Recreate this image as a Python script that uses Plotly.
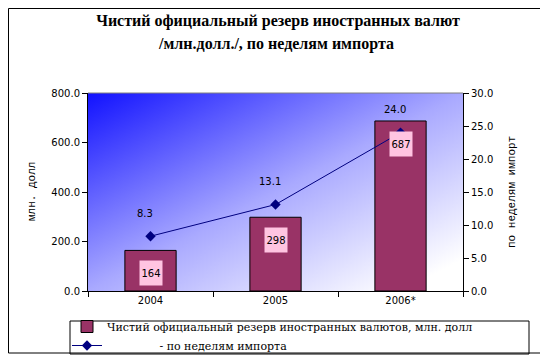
import base64
import plotly.graph_objects as go

categories = ["2004", "2005", "2006*"]
reserve_musd = [164, 298, 687]
weeks_import = [8.3, 13.1, 24.0]
bar_name = "Чистий официальный резерв иностранных валютов, млн. долл"
line_name = "\u00a0" * 15 + "- по неделям импорта"
title_line1 = "Чистий официальный резерв иностранных валют"
title_line2 = "/млн.долл./, по неделям импорта"
y_title = "млн. долл"
y2_title = "по неделям импорт"

# page body has an 8px margin: figure pixel p is screen pixel p + 8
OFF = 8
W, H = 548 - OFF, 360 - OFF
L, R, T, B = 80, 85, 85, 69
pw, ph = W - L - R, H - T - B

def px_x(p):
    return (p - L) / pw

def px_y(p):
    return (H - B - p) / ph

svg = ('<svg xmlns="http://www.w3.org/2000/svg" width="375" height="198" viewBox="0 0 375 198" '
       'preserveAspectRatio="none"><defs><linearGradient id="g" x1="0" y1="0" x2="1" y2="1">'
       '<stop offset="0" stop-color="#1212ff"/><stop offset="0.5" stop-color="#a9a9ff"/>'
       '<stop offset="0.92" stop-color="#ffffff"/><stop offset="1" stop-color="#ffffff"/>'
       '</linearGradient></defs><rect width="375" height="198" fill="url(#g)"/></svg>')
src = "data:image/svg+xml;base64," + base64.b64encode(svg.encode()).decode()

fig = go.Figure()
fig.add_trace(go.Bar(
    x=categories, y=reserve_musd, name=bar_name, width=0.41,
    marker=dict(color="#993366", line=dict(color="#000000", width=1)),
))
fig.add_trace(go.Scatter(
    x=categories, y=weeks_import, name=line_name, yaxis="y2", mode="lines+markers",
    line=dict(color="#000080", width=1),
    marker=dict(symbol="diamond", size=8, color="#000080"),
))

annotations = []
for i, v in enumerate(reserve_musd):
    annotations.append(dict(
        x=i, y=v, xref="x", yref="y", text=str(v), showarrow=False,
        yanchor="middle", yshift=-23, width=20, height=22,
        bgcolor="#ffc4e1", font=dict(family="DejaVu Sans", size=10, color="#000000"),
    ))
for i, v in enumerate(weeks_import):
    annotations.append(dict(
        x=i, y=v, xref="x", yref="y2", text=f"{v:.1f}", showarrow=False,
        yanchor="middle", yshift=23, xshift=-6,
        font=dict(family="DejaVu Sans", size=10, color="#000000"),
    ))
axis_title_font = dict(family="Liberation Mono", size=11, color="#000000")
annotations.append(dict(
    x=px_x(32 - OFF), y=px_y(191 - OFF), xref="paper", yref="paper", text=y_title,
    textangle=-90, showarrow=False, xanchor="center", yanchor="middle", font=axis_title_font,
))
annotations.append(dict(
    x=px_x(512 - OFF), y=px_y(192 - OFF), xref="paper", yref="paper", text=y2_title,
    textangle=-90, showarrow=False, xanchor="center", yanchor="middle", font=axis_title_font,
))
title_font = dict(family="Liberation Serif", size=16, color="#000000", weight="bold")
annotations.append(dict(
    x=0.5, y=px_y(44 - OFF), xref="paper", yref="paper", text=title_line2,
    showarrow=False, xanchor="center", yanchor="middle", font=title_font,
))

shapes = [
    dict(type="line", xref="paper", yref="paper", x0=0, x1=1, y0=1, y1=1,
         line=dict(color="#808080", width=1)),
    dict(type="rect", xref="paper", yref="paper", x0=px_x(0.5), x1=px_x(541 - OFF),
         y0=px_y(353 - OFF), y1=px_y(0.5), line=dict(color="#000000", width=1)),
    dict(type="rect", xref="paper", yref="paper", x0=px_x(70 - OFF), x1=px_x(529 - OFF),
         y0=px_y(354 - OFF), y1=px_y(321 - OFF), line=dict(color="#000000", width=1)),
]

tickfont = dict(family="DejaVu Sans", size=10, color="#000000")
fig.update_layout(
    width=W, height=H,
    margin=dict(l=L, r=R, t=T, b=B, autoexpand=False),
    paper_bgcolor="#ffffff", plot_bgcolor="rgba(0,0,0,0)",
    title=dict(text=title_line1, x=0.5, xanchor="center", y=1 - (20 - OFF) / H, yanchor="middle",
               font=title_font),
    images=[dict(source=src, xref="paper", yref="paper", x=0, y=1, sizex=1, sizey=1,
                 xanchor="left", yanchor="top", sizing="stretch", layer="below")],
    xaxis=dict(type="category", range=[-0.5, 2.5], tickson="boundaries", ticks="outside", ticklen=5,
               showline=True, linecolor="#000000", linewidth=1, tickcolor="#000000",
               showgrid=False, tickfont=tickfont, zeroline=False),
    yaxis=dict(range=[0, 800], dtick=200, tickformat=".1f", ticks="outside", ticklen=5,
               showline=True, linecolor="#000000", tickcolor="#000000", showgrid=False,
               zeroline=False, tickfont=tickfont),
    yaxis2=dict(range=[0, 30], dtick=5, tickformat=".1f", ticks="outside", ticklen=5,
                overlaying="y", side="right",
                showline=True, linecolor="#000000", tickcolor="#000000", showgrid=False,
                zeroline=False, tickfont=tickfont),
    showlegend=True,
    legend=dict(xref="container", yref="container", x=59 / W, y=1 - 304 / H,
                xanchor="left", yanchor="top",
                bgcolor="rgba(0,0,0,0)", borderwidth=0,
                font=dict(family="DejaVu Serif", size=11, color="#000000"),
                tracegroupgap=0, itemsizing="trace"),
    annotations=annotations,
    shapes=shapes,
)

fig.write_html("out.html")
